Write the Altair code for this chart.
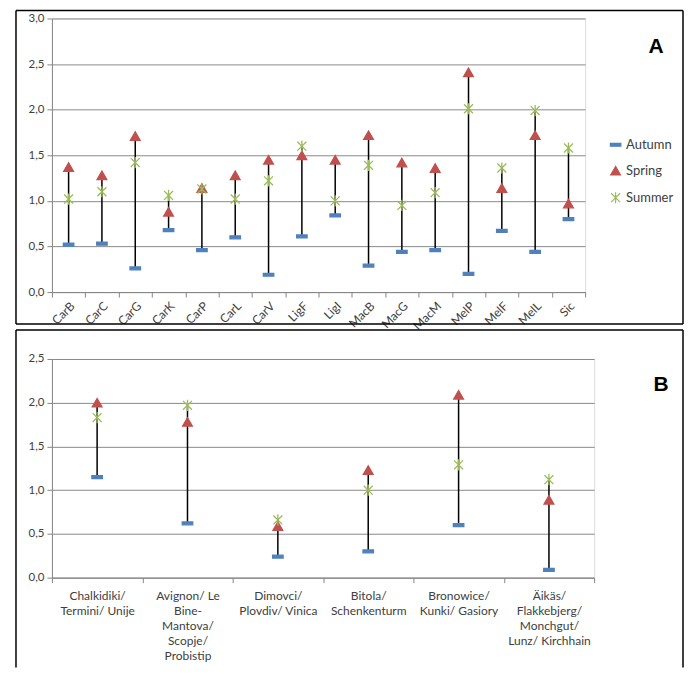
import altair as alt
import pandas as pd

series = ["Autumn", "Spring", "Summer"]
colors = ["#4f81bd", "#c0504d", "#9bbb59"]

cats_a = ["CarB", "CarC", "CarG", "CarK", "CarP", "CarL", "CarV", "LigF",
          "LigI", "MacB", "MacG", "MacM", "MelP", "MelF", "MelL", "Sic"]
autumn_a = [0.52, 0.53, 0.26, 0.68, 0.46, 0.60, 0.19, 0.61, 0.84, 0.29, 0.44, 0.46, 0.20, 0.67, 0.44, 0.80]
spring_a = [1.37, 1.28, 1.71, 0.88, 1.14, 1.28, 1.45, 1.50, 1.45, 1.72, 1.42, 1.36, 2.41, 1.14, 1.72, 0.97]
summer_a = [1.02, 1.10, 1.42, 1.06, 1.13, 1.02, 1.22, 1.60, 1.00, 1.39, 0.95, 1.09, 2.01, 1.36, 1.99, 1.58]

cats_b = ["Chalkidiki/\nTermini/ Unije",
          "Avignon/ Le\nBine-\nMantova/\nScopje/\nProbistip",
          "Dimovci/\nPlovdiv/ Vinica",
          "Bitola/\nSchenkenturm",
          "Bronowice/\nKunki/ Gasiory",
          "Äikäs/\nFlakkebjerg/\nMonchgut/\nLunz/ Kirchhain"]
autumn_b = [1.15, 0.62, 0.24, 0.30, 0.60, 0.09]
spring_b = [2.00, 1.78, 0.59, 1.23, 2.09, 0.89]
summer_b = [1.83, 1.97, 0.66, 1.00, 1.29, 1.12]

FONT = "Lato"
shapes = ["M-1,-0.28H1V0.28H-1Z", "triangle-up", "M-1,-1L1,1M-1,1L1,-1M0,-1.25V1.25"]


def frame_edges(x1, x2, y1, y2, bottom):
    one = alt.Data(values=[{"k": 1}])
    st = dict(color="black", strokeWidth=1.5)
    edges = [
        alt.Chart(one).mark_rule(**st).encode(x=alt.value(x1), y=alt.value(y1), y2=alt.value(y2)),
        alt.Chart(one).mark_rule(**st).encode(x=alt.value(x2), y=alt.value(y1), y2=alt.value(y2)),
        alt.Chart(one).mark_rule(**st).encode(x=alt.value(x1), x2=alt.value(x2), y=alt.value(y1)),
    ]
    if bottom:
        edges.append(alt.Chart(one).mark_rule(**st).encode(
            x=alt.value(x1), x2=alt.value(x2), y=alt.value(y2)))
    return edges


def panel(cats, au, sp, su, ymax, w, h, rot, leg_x, leg_y, letter, lx, ly, frame, bottom):
    rows = []
    for s, vals in zip(series, [au, sp, su]):
        for c, v in zip(cats, vals):
            rows.append({"cat": c, "series": s, "value": v})
    df = pd.DataFrame(rows)

    if rot:
        xaxis = alt.Axis(title=None, labelAngle=-45, tickBand="extent", grid=False,
                         labelFontSize=12, labelColor="#404040", domainColor="#868686",
                         tickColor="#868686", tickSize=5, labelPadding=3)
    else:
        xaxis = alt.Axis(title=None, labelAngle=0, tickBand="extent", grid=False,
                         labelExpr="split(datum.label, '\\n')", labelLimit=300,
                         labelFontSize=12, labelColor="#404040", labelLineHeight=15,
                         domainColor="#868686", tickColor="#868686", tickSize=5,
                         labelPadding=8, labelBaseline="top")
    xscale = alt.Scale(type="band", domain=cats, paddingInner=0, paddingOuter=0)
    yvals = [i * 0.5 for i in range(int(round(ymax / 0.5)) + 1)]
    yscale = alt.Scale(domain=[0, ymax], nice=False)
    yaxis = alt.Axis(title=None, values=yvals, grid=True, gridColor="#8a8a8a",
                     labelExpr="replace(format(datum.value, '.1f'), '.', ',')",
                     labelFontSize=11.5, labelColor="#404040", domainColor="#868686",
                     tickColor="#868686", tickSize=5, labelPadding=3)

    base = alt.Chart(df)
    rule = base.transform_aggregate(
        lo="min(value)", hi="max(value)", groupby=["cat"]
    ).mark_rule(color="black", strokeWidth=1.5).encode(
        x=alt.X("cat:N", scale=xscale, axis=xaxis, sort=cats),
        y=alt.Y("lo:Q", scale=yscale, axis=yaxis),
        y2="hi:Q",
    )
    leg = alt.Legend(title=None, orient="none", legendX=leg_x, legendY=leg_y,
                     labelFont=FONT, labelFontSize=13, labelColor="#404040",
                     symbolSize=90, rowPadding=11, labelOffset=4, symbolStrokeWidth=1.2)
    pts = base.mark_point(filled=True, strokeWidth=1.3, opacity=1).encode(
        x=alt.X("cat:N", scale=xscale, axis=xaxis, sort=cats),
        y=alt.Y("value:Q", scale=yscale, axis=yaxis),
        color=alt.Color("series:N", scale=alt.Scale(domain=series, range=colors), legend=leg),
        stroke=alt.Stroke("series:N", scale=alt.Scale(domain=series, range=colors), legend=leg),
        shape=alt.Shape("series:N", scale=alt.Scale(domain=series, range=shapes), legend=leg),
        size=alt.Size("series:N", scale=alt.Scale(domain=series, range=[110, 80, 160]), legend=None),
    )
    one = alt.Data(values=[{"k": 1}])
    lab = alt.Chart(one).mark_text(text=letter, font="Liberation Sans", fontSize=21,
                                   fontWeight="bold", color="black").encode(
        x=alt.value(lx), y=alt.value(ly)
    )
    layers = frame_edges(*frame, bottom) + [rule, pts, lab]
    return alt.layer(*layers).properties(width=w, height=h)


pa = panel(cats_a, autumn_a, spring_a, summer_a, 3.0, 534, 274, True,
           558, 120, "A", 605, 29, (-36, 632, -8, 306), True)
pb = panel(cats_b, autumn_b, spring_b, summer_b, 2.5, 543, 219, False,
           565, 121, "B", 610, 26, (-36, 632, -29, 309), False)

chart = alt.vconcat(pa, pb, spacing=-5).properties(
    padding={"left": 6, "top": 0, "right": 0, "bottom": 0}
).configure_view(stroke=None).configure(font=FONT).configure_axis(labelFont=FONT)

chart.save("out.html", embed_options={"renderer": "svg", "actions": False})
